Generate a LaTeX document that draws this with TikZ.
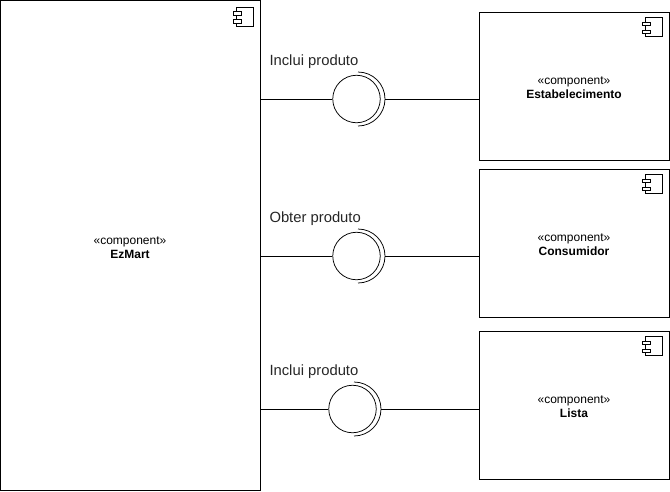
\documentclass[tikz,border=0pt]{standalone}
\usepackage{fontspec}
\setmainfont{Liberation Sans}
\begin{document}
\begin{tikzpicture}[
    x=1pt, y=-1pt,
    line width=1pt,
    component/.style={rectangle, draw, inner sep=0pt},
    comptext/.style={align=center, inner sep=0pt, font=\fontsize{12}{14}\selectfont},
    iface/.style={circle, draw, line width=0.75pt, minimum size=47.5pt, inner sep=0pt},
    socket/.style={line width=0.75pt},
    opname/.style={anchor=west, inner sep=0pt, text=black!85, font=\fontsize{14.8}{16}\selectfont},
    compicon/.pic={
        \draw (-17.5,0) rectangle (0,19);
        \draw[fill=white] (-20.5,4.5) rectangle (-12,8);
        \draw[fill=white] (-20.5,12.5) rectangle (-12,16);
    }
]
\useasboundingbox (0,0) rectangle (670,491);

% Composants
\node[component, minimum width=260pt, minimum height=490pt] (ezmart) at (130,245) {};
\node[component, minimum width=190pt, minimum height=148pt] (estab) at (574,86) {};
\node[component, minimum width=190pt, minimum height=148pt] (conso) at (574,243) {};
\node[component, minimum width=190pt, minimum height=148pt] (lista) at (574,405) {};

\node[comptext] (ezmartt) at (130,248) {«component»\\\textbf{EzMart}};
\node[comptext] (estabt) at (574,88) {«component»\\\textbf{Estabelecimento}};
\node[comptext] (consot) at (574,245) {«component»\\\textbf{Consumidor}};
\node[comptext] (listat) at (574,407) {«component»\\\textbf{Lista}};

% Icones
\pic at (253.5,7) {compicon};
\foreach \n in {estab,conso,lista} {
    \pic at ([shift={(-7,6)}]\n.north east) {compicon};
}

% Interfaces
\node[iface] (if1) at (356.5,99) {};
\node[iface] (if2) at (356.5,256) {};
\node[iface] (if3) at (352.5,409) {};

\node[opname] (op1) at (269,62) {Inclui produto};
\node[opname] (op2) at (269,219) {Obter produto};
\node[opname] (op3) at (269,372) {Inclui produto};

% Connexions
\foreach \i/\n in {1/estab,2/conso,3/lista} {
    \coordinate (sock\i) at ([xshift=28.5pt]if\i.center);
    \draw[socket] ([xshift=1.5pt,yshift=27pt]if\i.center) arc[start angle=-90, end angle=90, radius=27];
    \draw (ezmart.east |- if\i) -- (if\i.west);
    \draw (sock\i) -- (\n.west |- sock\i);
}

\end{tikzpicture}
\end{document}
